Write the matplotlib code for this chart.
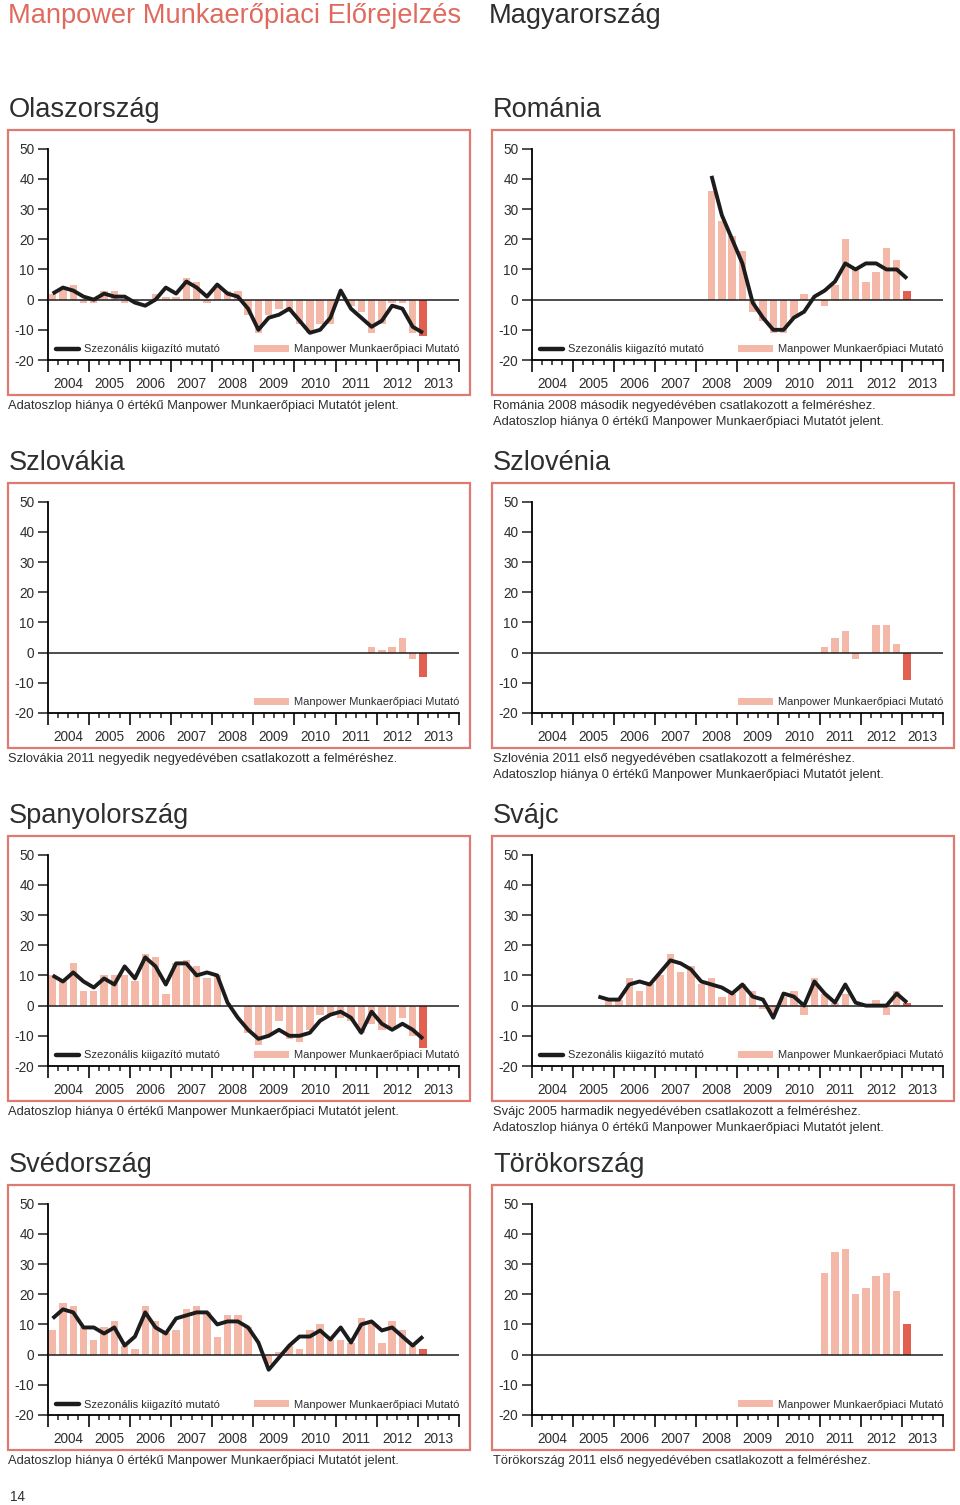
import numpy as np
import matplotlib
matplotlib.use("Agg")
from matplotlib import pyplot as plt
from matplotlib.patches import Rectangle, Patch
from matplotlib.lines import Line2D

plt.rcParams['font.family'] = ['Liberation Sans', 'DejaVu Sans']
plt.rcParams['axes.unicode_minus'] = False

W, H = 960, 1505
NAN = np.nan

YEARS = list(range(2004, 2014))
N_Q = 37  # 2004 Q1 .. 2013 Q1

# ---- data (quarterly, 2004 Q1 .. 2013 Q1) ----
italy_bars = [2, 4, 5, -1, -1, 3, 3, -1, -1, 0, 2, 1, 1, 7, 6, -1, 5, 3, 3, -5,
              -11, -5, -3, -4, -8, -11, -8, -8, 0, -2, -4, -11, -8, -1, -1, -11, -12]
italy_line = [2, 4, 3, 1, 0, 2, 1, 1, -1, -2, 0, 4, 2, 6, 4, 1, 5, 2, 1, -3,
              -10, -6, -5, -3, -7, -11, -10, -6, 3, -3, -6, -9, -7, -2, -3, -9, -11]

romania_bars = [NAN] * 17 + [36, 26, 21, 16, -4, -7, -11, -11, -6, 2, 0, -2, 5, 20, 10, 6, 9, 17, 13, 3]
romania_line = [NAN] * 17 + [41, 28, 20, 12, -1, -6, -10, -10, -6, -4, 1, 3, 6, 12, 10, 12, 12, 10, 10, 7]

slovakia_bars = [NAN] * 31 + [2, 1, 2, 5, -2, -8]

slovenia_bars = [NAN] * 28 + [2, 5, 7, -2, 0, 9, 9, 3, -9]

spain_bars = [10, 8, 14, 5, 5, 10, 10, 10, 8, 17, 16, 4, 14, 15, 13, 9, 10, 0, 0, -9,
              -13, -10, -5, -11, -12, -8, -3, -3, -4, -5, -9, -6, -8, -7, -4, -10, -14]
spain_line = [10, 8, 11, 8, 6, 9, 7, 13, 9, 16, 13, 7, 14, 14, 10, 11, 10, 1, -4, -8,
              -11, -10, -8, -10, -10, -9, -5, -3, -2, -4, -9, -2, -6, -8, -6, -8, -11]

swiss_bars = [NAN] * 6 + [0, 2, 2, 9, 5, 7, 10, 17, 11, 13, 7, 9, 3, 4, 7, 5, -1, -2, 3, 5,
                          -3, 9, 4, 1, 4, 0, 0, 2, -3, 5, 1]
swiss_line = [NAN] * 6 + [3, 2, 2, 7, 8, 7, 11, 15, 14, 12, 8, 7, 6, 4, 7, 3, 2, -4, 4, 3,
                          0, 8, 4, 1, 7, 1, 0, 0, 0, 4, 1]

sweden_bars = [8, 17, 16, 9, 5, 9, 11, 3, 2, 16, 11, 7, 8, 15, 16, 14, 6, 13, 13, 9,
               0, -3, 1, 3, 2, 8, 10, 5, 5, 4, 12, 11, 4, 11, 8, 3, 2]
sweden_line = [12, 15, 14, 9, 9, 7, 9, 3, 6, 14, 9, 7, 12, 13, 14, 14, 10, 11, 11, 9,
               4, -5, -1, 3, 6, 6, 8, 5, 9, 4, 10, 11, 8, 9, 6, 3, 6]

turkey_bars = [NAN] * 28 + [27, 34, 35, 20, 22, 26, 27, 21, 10]

NOTE_ZERO = "Adatoszlop hiánya 0 értékű Manpower Munkaerőpiaci Mutatót jelent."

panels = [
    ("Olaszország", 0, 0, italy_bars, italy_line, [NOTE_ZERO]),
    ("Románia", 1, 0, romania_bars, romania_line,
     ["Románia 2008 második negyedévében csatlakozott a felméréshez.", NOTE_ZERO]),
    ("Szlovákia", 0, 1, slovakia_bars, None,
     ["Szlovákia 2011 negyedik negyedévében csatlakozott a felméréshez."]),
    ("Szlovénia", 1, 1, slovenia_bars, None,
     ["Szlovénia 2011 első negyedévében csatlakozott a felméréshez.", NOTE_ZERO]),
    ("Spanyolország", 0, 2, spain_bars, spain_line, [NOTE_ZERO]),
    ("Svájc", 1, 2, swiss_bars, swiss_line,
     ["Svájc 2005 harmadik negyedévében csatlakozott a felméréshez.", NOTE_ZERO]),
    ("Svédország", 0, 3, sweden_bars, sweden_line, [NOTE_ZERO]),
    ("Törökország", 1, 3, turkey_bars, None,
     ["Törökország 2011 első negyedévében csatlakozott a felméréshez."]),
]

# ---- style ----
FRAME_C = '#DE7B70'
HEAD_C = '#E06A5E'
BAR_C = '#F3B8A7'
LAST_C = '#E2604F'
LINE_C = '#1c1c1c'
TEXT_C = '#2e2e2e'

COL_X = [8, 492]
ROW_Y = [130, 483, 836, 1185]
FRAME_W, FRAME_H = 462, 265


def fx(x):
    return x / W


def fy(y):
    return 1 - y / H


fig = plt.figure(figsize=(W / 100, H / 100), dpi=100)

fig.text(fx(8), fy(23), "Manpower Munkaerőpiaci Előrejelzés", color=HEAD_C,
         fontsize=19.6, va='baseline', ha='left')
fig.text(fx(489), fy(23), "Magyarország", color=TEXT_C, fontsize=19.6,
         va='baseline', ha='left')

x = np.arange(N_Q) + 0.5

for title, col, row, bars, line, notes in panels:
    x0 = COL_X[col]
    top = ROW_Y[row]

    fig.text(fx(x0 + 1), fy(top - 13), title, color=TEXT_C, fontsize=19.6,
             va='baseline', ha='left')
    fig.patches.append(Rectangle((fx(x0), fy(top + FRAME_H)), FRAME_W / W, FRAME_H / H,
                                 transform=fig.transFigure, fill=False,
                                 edgecolor=FRAME_C, linewidth=1.6))
    for k, note in enumerate(notes):
        fig.text(fx(x0 + 0.5), fy(top + 276 + 15.5 * k), note, color=TEXT_C,
                 fontsize=9.3, va='center', ha='left')

    ax_l = x0 + 39.5
    ax_r = x0 + FRAME_W - 11
    y_top = top + 18.7
    y_bot = top + 230
    ax = fig.add_axes([fx(ax_l), fy(y_bot), (ax_r - ax_l) / W, (y_bot - y_top) / H])

    b = np.array(bars, dtype=float)
    ok = np.isfinite(b)
    colors = [LAST_C if i == N_Q - 1 else BAR_C for i in range(N_Q)]
    ax.bar(x[ok], b[ok], width=0.72, color=np.array(colors)[ok], linewidth=0, zorder=2)
    ax.axhline(0, color=LINE_C, linewidth=1.1, zorder=3)
    if line is not None:
        ax.plot(x, np.array(line, dtype=float), color=LINE_C, linewidth=2.8,
                solid_joinstyle='round', solid_capstyle='butt', zorder=4)

    ax.set_xlim(0, 4 * len(YEARS))
    ax.set_ylim(-20, 50)
    ax.set_yticks(range(-20, 51, 10))
    ax.set_xticks(range(0, 4 * len(YEARS) + 1, 4))
    ax.set_xticks([q for q in range(4 * len(YEARS)) if q % 4], minor=True)
    ax.set_xticklabels([])
    ax.tick_params(axis='y', length=7, width=1.1, pad=2.5, labelsize=9.8,
                   labelcolor=TEXT_C, color=LINE_C)
    ax.tick_params(axis='x', which='major', length=8.5, width=1.3, color=LINE_C)
    ax.tick_params(axis='x', which='minor', length=3.5, width=1.1, color=LINE_C)
    for s in ('top', 'right'):
        ax.spines[s].set_visible(False)
    ax.spines['left'].set_linewidth(1.3)
    ax.spines['bottom'].set_linewidth(1.3)
    ax.patch.set_alpha(0)

    for k, yr in enumerate(YEARS):
        ax.text(4 * k + 2, -0.112, str(yr), transform=ax.get_xaxis_transform(),
                ha='center', va='center', fontsize=9.8, color=TEXT_C)

    leg_y = 10.5 / (y_bot - y_top)
    bar_handle = Patch(facecolor=BAR_C, edgecolor='none')
    leg_bar = ax.legend([bar_handle], ["Manpower Munkaerőpiaci Mutató"],
                        loc='center right', bbox_to_anchor=(1.0, leg_y),
                        frameon=False, fontsize=8.0, borderpad=0, borderaxespad=0,
                        handlelength=3.1, handleheight=0.6, handletextpad=0.45,
                        labelcolor=TEXT_C)
    if line is not None:
        ax.add_artist(leg_bar)
        line_handle = Line2D([], [], color=LINE_C, linewidth=3.2, solid_capstyle='round')
        ax.legend([line_handle], ["Szezonális kiigazító mutató"],
                  loc='center left', bbox_to_anchor=(8.5 / (ax_r - ax_l), leg_y),
                  frameon=False, fontsize=8.0, borderpad=0, borderaxespad=0,
                  handlelength=2.1, handletextpad=0.45, labelcolor=TEXT_C)

fig.text(fx(10), fy(1497), "14", color=TEXT_C, fontsize=9.8, va='center', ha='left')

fig.savefig("out.png", dpi=100)
